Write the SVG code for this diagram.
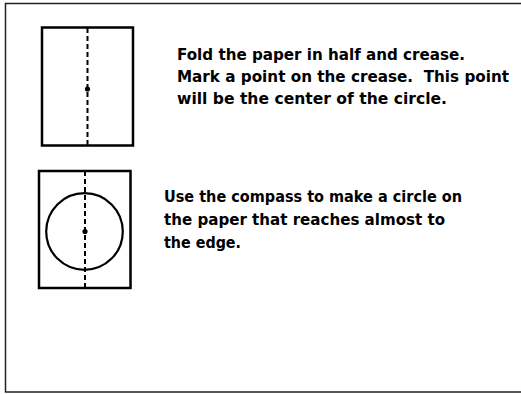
<svg xmlns="http://www.w3.org/2000/svg" width="521" height="394" viewBox="0 0 521 394">
<style>
.frame{fill:none;stroke:#222;stroke-width:1.5}
.paper{fill:none;stroke:#000;stroke-width:2.5}
.crease{stroke:#000;stroke-width:2;stroke-dasharray:5,3;fill:none}
.circ{fill:none;stroke:#000;stroke-width:2.2}
.t{font-family:"DejaVu Sans","Liberation Sans",sans-serif;font-weight:bold;font-size:16px;fill:#000;white-space:pre}
</style>
<rect width="521" height="394" fill="#fff"/>
<g id="frame">
<path class="frame" d="M521 3.5 H5.5 V392 H521"/>
</g>
<g id="step1">
<rect class="paper" x="42" y="27.5" width="91" height="118"/>
<line class="crease" x1="87.5" y1="28" x2="87.5" y2="145"/>
<circle cx="87.5" cy="89" r="2.6" fill="#000"/>
<text class="t" x="177" y="60" textLength="288" lengthAdjust="spacingAndGlyphs">Fold the paper in half and crease.</text>
<text class="t" x="177" y="82" textLength="332" lengthAdjust="spacingAndGlyphs" xml:space="preserve">Mark a point on the crease.  This point</text>
<text class="t" x="177" y="104" textLength="270" lengthAdjust="spacingAndGlyphs">will be the center of the circle.</text>
</g>
<g id="step2">
<rect class="paper" x="39" y="171" width="91.5" height="117"/>
<line class="crease" x1="85" y1="171" x2="85" y2="287"/>
<circle class="circ" cx="84.5" cy="231.5" r="38.3"/>
<circle cx="85" cy="231.5" r="2.6" fill="#000"/>
<text class="t" x="164" y="202" textLength="298" lengthAdjust="spacingAndGlyphs">Use the compass to make a circle on</text>
<text class="t" x="164" y="225" textLength="281" lengthAdjust="spacingAndGlyphs">the paper that reaches almost to</text>
<text class="t" x="164" y="248" textLength="77" lengthAdjust="spacingAndGlyphs">the edge.</text>
</g>
</svg>
